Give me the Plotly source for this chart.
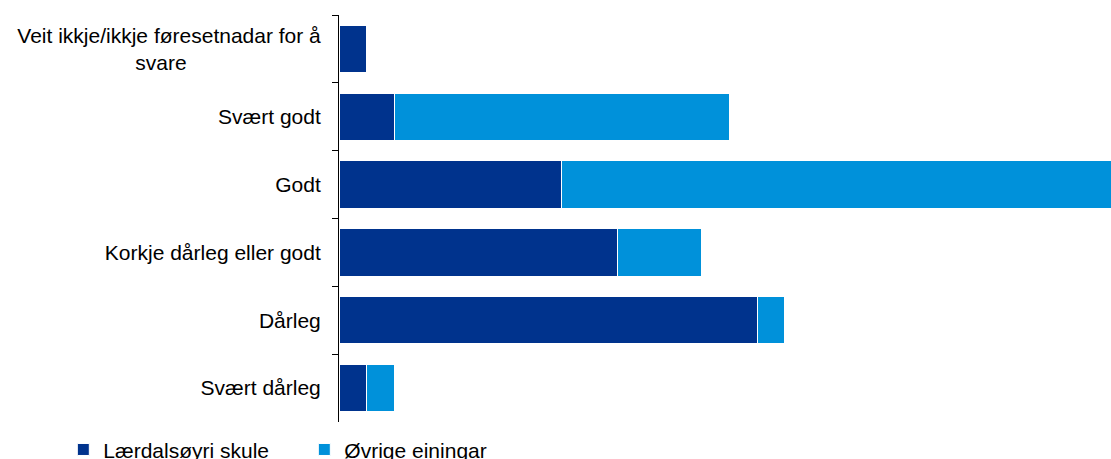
import plotly.graph_objects as go

categories = [
    "Veit ikkje/ikkje føresetnadar for å<br>svare" + "&nbsp;" * 23,
    "Svært godt",
    "Godt",
    "Korkje dårleg eller godt",
    "Dårleg",
    "Svært dårleg",
]
laerdal = [1, 2, 8, 10, 15, 1]
ovrige = [0, 12, 20, 3, 1, 1]
series_names = ["Lærdalsøyri skule", "Øvrige einingar"]
colors = ["#00338D", "#0091DA"]

fig = go.Figure()
for name, vals, col in zip(series_names, [laerdal, ovrige], colors):
    fig.add_trace(go.Bar(
        y=categories, x=vals, name=name, orientation="h",
        marker=dict(color=col, line=dict(color="white", width=1)),
    ))

fig.update_layout(
    barmode="stack",
    bargap=0.30,
    width=1111, height=459,
    margin=dict(l=339, r=0, t=15, b=37),
    paper_bgcolor="white", plot_bgcolor="white",
    font=dict(family="Liberation Sans, Arial, sans-serif", size=21, color="#000000"),
    showlegend=True,
    legend=dict(
        orientation="h", xref="container", yref="container",
        x=0.057, y=0.02, xanchor="left", yanchor="middle",
        font=dict(size=21), entrywidth=196, traceorder="normal",
    ),
)
fig.update_xaxes(range=[0, 27.7], showgrid=False, zeroline=False,
                 showline=False, showticklabels=False, ticks="")
fig.update_yaxes(autorange="reversed", showline=True, linecolor="black", linewidth=1,
                 ticks="outside", tickson="boundaries", ticklen=6, tickcolor="black",
                 ticklabelstandoff=13,
                 showgrid=False, zeroline=False)

fig.write_html("out.html")
